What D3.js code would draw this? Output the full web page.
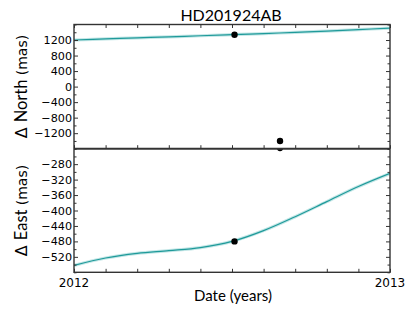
<!DOCTYPE html>
<html>
<head>
<meta charset="utf-8">
<script src="https://cdn.jsdelivr.net/npm/d3@7"></script>
<style>
  body { margin: 0; background: #fff; }
  svg { display: block; }
</style>
</head>
<body>
<div class="container"></div>
<script>
// model curve sampled every 0.1 yr
var years = [2012.0, 2012.1, 2012.2, 2012.3, 2012.4, 2012.5, 2012.6, 2012.7, 2012.8, 2012.9, 2013.0];
var northModel = [1200, 1228, 1256, 1283, 1310, 1337, 1366, 1397, 1430, 1468, 1508];
var eastModel = [-542, -523, -511, -504, -496, -480, -452, -416, -377, -338, -304];

// measured epochs
var obsYears = [2012.508, 2012.652];
var obsNorth = [1337, -1400];
var obsEast = [-480, -238];

var northTicks = [-1200, -800, -400, 0, 400, 800, 1200];
var eastTicks = [-520, -480, -440, -400, -360, -320, -280];
var yearLabels = [2012, 2013];

var width = 415, height = 312;
var left = 74, right = 390, top1 = 24.5, mid = 148.7, bot = 272.3;

var svg = d3.select(".container").append("svg")
    .attr("width", width)
    .attr("height", height);

var x = d3.scaleLinear().domain([2012, 2013]).range([left, right]);
var yN = d3.scaleLinear().domain([-1600, 1600]).range([mid, top1]);
var yE = d3.scaleLinear().domain([-560, -240]).range([bot, mid]);

var minorX = d3.range(0, 11).map(function (i) { return 2012 + i / 10; });
var spine = "#333";
var teal = "#1f9a9a";
var fmt = function (d) { return d < 0 ? "\u2212" + Math.abs(d) : "" + d; };

svg.append("defs").selectAll("clipPath")
    .data([["clipN", top1, mid], ["clipE", mid, bot]])
    .enter().append("clipPath").attr("id", function (d) { return d[0]; })
    .append("rect")
    .attr("x", left).attr("y", function (d) { return d[1]; })
    .attr("width", right - left).attr("height", function (d) { return d[2] - d[1]; });

function panel(y, model, obs, ticks, clipId, minorStep) {
  var g = svg.append("g");
  var line = d3.line()
      .x(function (d, i) { return x(years[i]); })
      .y(function (d) { return y(d); })
      .curve(d3.curveCatmullRom);
  var plot = g.append("g").attr("clip-path", "url(#" + clipId + ")");
  // uncertainty halo, then the line
  plot.append("path").attr("d", line(model))
      .attr("fill", "none").attr("stroke", "#b3e0e0").attr("stroke-width", 3.2).attr("opacity", 0.8);
  plot.append("path").attr("d", line(model))
      .attr("fill", "none").attr("stroke", teal).attr("stroke-width", 1.2);
  plot.selectAll("circle").data(obs).enter().append("circle")
      .attr("cx", function (d, i) { return x(obsYears[i]); })
      .attr("cy", function (d) { return y(d); })
      .attr("r", 3.2).attr("fill", "#000");

  var dom = y.domain();
  var minors = d3.range(dom[0], dom[1] + 1, minorStep).filter(function (v) { return ticks.indexOf(v) < 0; });

  // left axis: labels + inward ticks
  var la = g.append("g").attr("transform", "translate(" + left + ",0)")
      .call(d3.axisLeft(y).tickValues(ticks).tickSize(-4).tickPadding(2).tickFormat(fmt));
  la.select(".domain").remove();
  la.selectAll("text").attr("font-family", "DejaVu Sans").attr("font-size", 11.2).attr("fill", "#000");
  la.selectAll("line").attr("stroke", spine);
  var lm = g.append("g").attr("transform", "translate(" + left + ",0)")
      .call(d3.axisLeft(y).tickValues(minors).tickSize(-2.5).tickFormat(""));
  lm.select(".domain").remove();
  lm.selectAll("line").attr("stroke", spine);

  // right axis, ticks only
  var ra = g.append("g").attr("transform", "translate(" + right + ",0)")
      .call(d3.axisRight(y).tickValues(ticks).tickSize(-4).tickFormat(""));
  ra.select(".domain").remove();
  ra.selectAll("line").attr("stroke", spine);
  var rm = g.append("g").attr("transform", "translate(" + right + ",0)")
      .call(d3.axisRight(y).tickValues(minors).tickSize(-2.5).tickFormat(""));
  rm.select(".domain").remove();
  rm.selectAll("line").attr("stroke", spine);
  return g;
}

panel(yN, northModel, obsNorth, northTicks, "clipN", 200);
panel(yE, eastModel, obsEast, eastTicks, "clipE", 20);

// x ticks on top, divider and bottom
[[top1, d3.axisTop], [mid, d3.axisBottom], [bot, d3.axisBottom]].forEach(function (t) {
  var a = svg.append("g").attr("transform", "translate(0," + t[0] + ")")
      .call(t[1](x).tickValues(minorX).tickSize(-3.5).tickFormat(""));
  a.select(".domain").remove();
  a.selectAll("line").attr("stroke", spine);
});

// year labels
svg.append("g").selectAll("text").data(yearLabels).enter().append("text")
    .attr("x", function (d) { return x(d); })
    .attr("y", 286.5)
    .attr("text-anchor", "middle")
    .attr("font-family", "DejaVu Sans").attr("font-size", 12)
    .text(function (d) { return d; });

// frames
svg.append("rect").attr("x", left).attr("y", top1).attr("width", right - left).attr("height", bot - top1)
    .attr("fill", "none").attr("stroke", spine).attr("stroke-width", 1.4);
svg.append("line").attr("x1", left).attr("x2", right).attr("y1", mid).attr("y2", mid)
    .attr("stroke", spine).attr("stroke-width", 2);

// title and axis labels
svg.append("text").attr("x", 231).attr("y", 20.5).attr("text-anchor", "middle")
    .attr("font-family", "Lato").attr("font-size", 16).text("HD201924AB");
svg.append("text").attr("x", 233).attr("y", 300.5).attr("text-anchor", "middle")
    .attr("font-family", "Lato").attr("font-size", 15).text("Date (years)");

function ylabel(cy, word) {
  var t = svg.append("text")
      .attr("transform", "translate(27," + cy + ") rotate(-90)")
      .attr("text-anchor", "middle");
  t.append("tspan").attr("font-family", "DejaVu Sans").attr("font-size", 16).text("\u0394 ");
  t.append("tspan").attr("font-family", "Lato").attr("font-size", 16.5).text(word + " ");
  t.append("tspan").attr("font-family", "DejaVu Sans").attr("font-size", 14).text("(mas)");
}
ylabel((top1 + mid) / 2, "North");
ylabel((mid + bot) / 2, "East");
</script>
</body>
</html>
